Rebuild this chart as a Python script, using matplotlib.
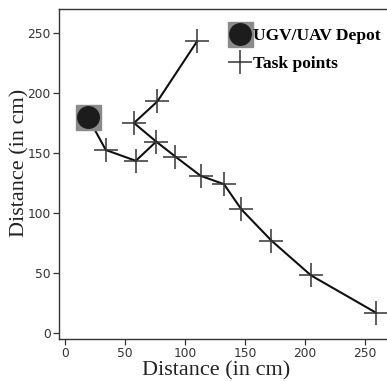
import numpy as np
import matplotlib
matplotlib.use("Agg")
import matplotlib.pyplot as plt
from matplotlib.lines import Line2D
from matplotlib.legend_handler import HandlerTuple

# depot position
depot_x = [19]
depot_y = [180]

# main route: depot -> ... -> far corner
route1_x = [19, 34, 59, 76, 92, 113, 132.5, 147, 172, 205, 259]
route1_y = [180, 152.5, 143.5, 159.5, 147, 131, 124, 103, 77, 48, 17]

# branch going up
route2_x = [76, 57.5, 77, 110]
route2_y = [159.5, 175, 193, 243]

# task points
task_x = [34, 59, 76, 92, 113, 132.5, 147, 172, 205, 259, 57.5, 77, 110]
task_y = [152.5, 143.5, 159.5, 147, 131, 124, 103, 77, 48, 17, 175, 193, 243]

fig = plt.figure(figsize=(3.87, 3.81), dpi=100)
ax = fig.add_axes([59/387, 42/381, 330/387, 330/381])

ax.plot(route1_x, route1_y, color="#111111", lw=1.5, zorder=2)
ax.plot(route2_x, route2_y, color="#111111", lw=1.5, zorder=2)
ax.plot(task_x, task_y, ls="none", marker="+", ms=17, mew=1.1, color="#333333", zorder=3)
ax.plot(depot_x, depot_y, ls="none", marker="s", ms=18, color="#8a8a8a", zorder=4)
ax.plot(depot_x, depot_y, ls="none", marker="o", ms=15.5, color="#1c1c1c", zorder=5)

ax.set_xlim(-5, 270)
ax.set_ylim(-5, 270)
ax.set_xticks([0, 50, 100, 150, 200, 250])
ax.set_yticks([0, 50, 100, 150, 200, 250])
ax.tick_params(labelsize=8.8, colors="#333333", length=4, width=0.9, pad=2)
for s in ax.spines.values():
    s.set_color("#333333")
    s.set_linewidth(1.0)

ax.set_xlabel("Distance (in cm)", family="Liberation Serif", fontsize=16, color="#222222")
ax.set_ylabel("Distance (in cm)", family="Liberation Serif", fontsize=16, color="#222222")
ax.xaxis.set_label_coords(0.477, -0.066)
ax.yaxis.set_label_coords(-0.088, 0.533)

h_sq = Line2D([], [], ls="none", marker="s", ms=18, color="#8a8a8a")
h_ci = Line2D([], [], ls="none", marker="o", ms=15.5, color="#1c1c1c")
h_pl = Line2D([], [], ls="none", marker="+", ms=17, mew=1.1, color="#333333")
leg = ax.legend([(h_sq, h_ci), h_pl], ["UGV/UAV Depot", "Task points"],
                handler_map={tuple: HandlerTuple(ndivide=1)},
                loc="upper left", bbox_to_anchor=(0.521, 0.942), frameon=False,
                prop={"family": "Liberation Serif", "weight": "bold", "size": 12.5},
                handlelength=1.05, handletextpad=0.2, borderpad=0, borderaxespad=0,
                labelspacing=0.68)

fig.savefig("out.png", dpi=100)
